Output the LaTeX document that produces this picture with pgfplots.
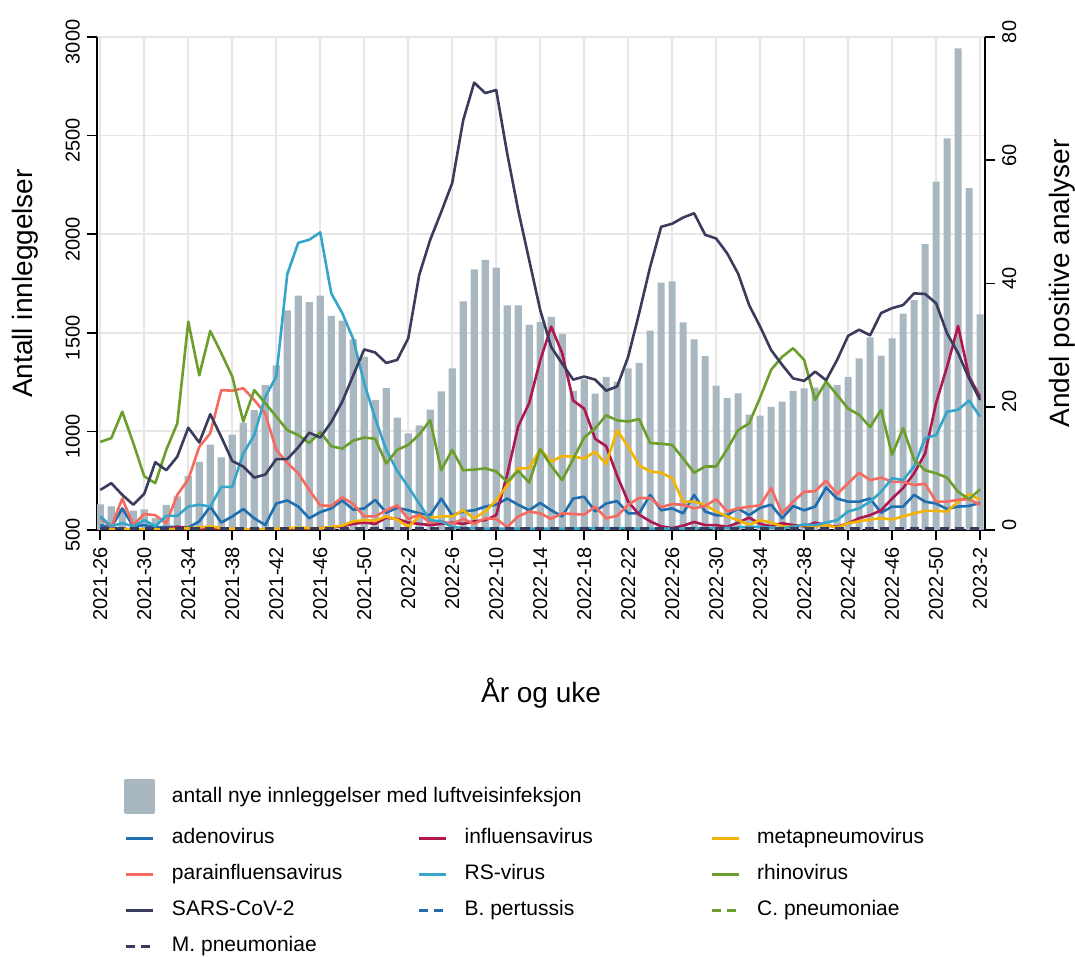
\documentclass[border=0pt]{standalone}
\usepackage{fontspec}
\setmainfont{Liberation Sans}
\usepackage{pgfplots}
\usepackage{pgfplotstable}
\pgfplotsset{compat=1.18}

\definecolor{bargray}{HTML}{A9B7C1}
\definecolor{gridgray}{HTML}{E6E6E6}
\definecolor{adeno}{HTML}{1F6EB0}
\definecolor{influ}{HTML}{B0174E}
\definecolor{meta}{HTML}{F4B400}
\definecolor{para}{HTML}{F66A60}
\definecolor{rsv}{HTML}{35A6CA}
\definecolor{rhino}{HTML}{6C9E2B}
\definecolor{sars}{HTML}{3B3B5E}

\newcommand\lentry[1]{\addlegendentry{\makebox[131.5pt][l]{\hspace{8.5pt}#1}}}

% week index (0 = 2021-26), admissions, percent positive per agent
\pgfplotstableread{
i bar ad inf met par rs rh sc bp cp mp
0 630 0.8 0.3 0.1 1.9 2.2 14.3 6.5 0.1 0.1 0.2
1 620 0.4 0.2 0.1 0.5 0.6 14.9 7.6 0.1 0.1 0.2
2 610 3.5 0.2 0.1 5.1 1.1 19.2 5.7 0.1 0.1 0.2
3 598 0.6 0.1 0.1 0.8 0.6 14.1 4.1 0.1 0.1 0.2
4 605 0.8 0.1 0.1 2.6 1.6 8.7 5.9 0.1 0.1 0.2
5 560 0.4 0.1 0.1 2.4 0.6 7.6 11.0 0.1 0.1 0.2
6 628 0.5 0.2 0.1 1.1 2.3 13.0 9.7 0.1 0.1 0.2
7 670 0.5 0.5 0.2 5.7 2.3 17.3 11.9 0.1 0.1 0.2
8 775 0.4 0.3 0.3 8.2 3.8 33.8 16.6 0.1 0.1 0.2
9 846 1.4 0.1 0.4 13.5 4.1 25.1 14.2 0.1 0.1 0.2
10 933 3.8 0.1 0.6 15.7 3.8 32.3 18.8 0.1 0.1 0.2
11 868 1.2 0.1 0.3 22.7 7.0 28.7 15.1 0.1 0.1 0.2
12 983 2.2 0.1 0.2 22.6 7.0 24.9 11.2 0.1 0.1 0.2
13 1044 3.4 0.1 0.1 23.0 12.4 17.6 10.3 0.1 0.1 0.2
14 1108 1.9 0.1 0.1 21.1 15.4 22.7 8.5 0.1 0.1 0.2
15 1235 0.8 0.1 0.1 18.9 21.6 20.6 9.0 0.1 0.1 0.2
16 1335 4.3 0.1 0.2 13.0 24.9 18.4 11.5 0.1 0.1 0.2
17 1614 4.8 0.1 0.3 10.9 41.5 16.2 11.5 0.1 0.1 0.2
18 1688 3.8 0.1 0.4 9.2 46.6 15.4 13.4 0.1 0.1 0.2
19 1655 1.9 0.2 0.3 6.5 47.1 14.1 15.8 0.1 0.1 0.2
20 1688 2.9 0.3 0.3 4.0 48.3 15.9 15.0 0.1 0.1 0.2
21 1586 3.5 0.4 0.5 3.9 38.4 13.6 17.5 0.1 0.1 0.2
22 1562 4.8 0.6 0.7 5.3 35.2 13.2 20.8 0.1 0.1 0.2
23 1466 3.3 1.0 1.4 4.2 31.0 14.5 25.1 0.1 0.1 0.2
24 1378 3.5 1.2 1.6 2.2 23.8 15.0 29.3 0.1 0.1 0.2
25 1158 4.9 1.0 1.5 2.2 18.1 14.8 28.8 0.1 0.1 0.2
26 1220 2.8 2.0 2.2 3.2 13.0 10.8 27.1 0.1 0.1 0.2
27 1070 3.6 1.8 1.7 4.0 9.6 13.0 27.6 0.1 0.1 0.2
28 990 3.2 1.2 0.5 1.8 7.0 13.8 31.1 0.1 0.1 0.2
29 1030 2.7 1.0 2.2 2.5 4.3 15.5 41.4 0.1 0.1 0.2
30 1110 2.4 0.8 2.0 1.2 1.6 17.8 47.1 0.1 0.1 0.2
31 1203 5.1 1.0 2.2 1.4 1.4 9.7 51.6 0.1 0.1 0.2
32 1320 2.4 1.2 2.2 1.0 0.5 13.0 56.3 0.1 0.1 0.2
33 1659 3.0 1.0 3.2 1.8 0.3 9.7 66.5 0.1 0.1 0.2
34 1822 3.2 1.4 1.9 1.0 0.3 9.8 72.6 0.1 0.1 0.2
35 1870 3.8 1.6 3.0 1.9 0.2 10.0 70.9 0.1 0.1 0.2
36 1830 4.1 2.4 4.8 1.8 0.2 9.5 71.4 0.1 0.1 0.2
37 1639 5.1 9.0 7.3 0.5 0.2 7.8 61.1 0.1 0.1 0.2
38 1639 4.1 16.8 10.0 2.2 0.2 9.6 51.9 0.1 0.1 0.2
39 1541 3.2 20.6 10.0 3.0 0.2 7.7 43.8 0.1 0.1 0.2
40 1555 4.4 27.5 13.1 2.7 0.2 13.1 35.7 0.1 0.1 0.2
41 1581 3.2 33.0 11.1 1.8 0.2 10.4 29.7 0.1 0.1 0.2
42 1495 2.2 28.7 12.0 2.7 0.2 8.1 27.0 0.1 0.1 0.2
43 1206 5.1 21.0 11.9 2.6 0.2 11.5 24.4 0.1 0.1 0.2
44 1264 5.4 19.7 11.6 2.5 0.3 15.0 24.9 0.1 0.1 0.2
45 1191 3.0 14.8 12.7 3.8 0.3 16.5 24.4 0.1 0.1 0.2
46 1277 4.3 13.6 10.7 1.9 0.3 18.6 22.6 0.1 0.1 0.2
47 1252 4.7 8.8 16.2 2.3 0.3 17.8 23.3 0.1 0.1 0.2
48 1320 2.7 4.6 13.5 4.1 0.3 17.6 28.1 0.1 0.1 0.2
49 1348 2.7 2.5 10.5 5.2 0.2 18.0 35.2 0.1 0.1 0.2
50 1511 5.7 1.4 9.5 5.2 0.2 14.1 42.7 0.1 0.1 0.2
51 1754 3.2 0.6 9.3 3.7 0.2 14.0 49.2 0.1 0.1 0.2
52 1761 3.5 0.3 8.4 4.2 0.2 13.8 49.7 0.1 0.1 0.2
53 1553 2.7 0.7 4.6 4.1 0.2 11.6 50.7 0.1 0.1 0.2
54 1467 5.7 1.3 4.6 3.5 0.3 9.3 51.4 0.1 0.1 0.2
55 1382 3.0 0.8 4.1 3.9 0.3 10.3 47.9 0.1 0.1 0.2
56 1232 2.4 0.8 3.0 5.0 0.3 10.3 47.3 0.1 0.1 0.2
57 1169 2.4 0.5 2.2 3.0 0.3 13.1 44.9 0.1 0.1 0.2
58 1193 3.5 1.2 1.6 3.5 0.4 16.2 41.6 0.1 0.1 0.2
59 1085 2.4 2.0 0.8 3.8 0.5 17.3 36.5 0.1 0.1 0.2
60 1080 3.6 1.0 1.6 4.0 0.5 21.5 33.0 0.1 0.1 0.2
61 1124 4.1 0.6 1.2 6.8 0.4 26.0 29.2 0.1 0.1 0.2
62 1151 1.9 1.1 0.6 2.7 0.3 28.1 26.8 0.1 0.1 0.2
63 1206 3.9 0.8 0.5 4.6 0.5 29.5 24.6 0.1 0.1 0.2
64 1218 3.2 0.6 0.8 6.2 0.9 27.6 24.2 0.1 0.1 0.2
65 1222 3.8 1.2 0.6 6.3 0.8 21.1 25.7 0.1 0.1 0.2
66 1239 6.9 0.8 0.8 8.0 1.2 24.1 24.3 0.1 0.1 0.2
67 1234 5.1 0.5 0.4 5.8 1.6 21.9 27.6 0.1 0.1 0.2
68 1276 4.6 1.1 1.1 7.6 3.0 19.7 31.5 0.1 0.1 0.2
69 1370 4.6 1.9 1.4 9.3 3.5 18.7 32.5 0.1 0.1 0.2
70 1477 5.1 2.4 1.7 8.1 4.6 16.7 31.6 0.1 0.1 0.2
71 1384 2.8 3.2 1.9 8.5 6.2 19.5 35.2 0.1 0.1 0.2
72 1472 3.8 5.1 1.7 7.8 8.4 12.2 36.0 0.1 0.1 0.2
73 1597 3.8 6.8 2.2 7.8 8.1 16.5 36.5 0.1 0.1 0.2
74 1666 5.7 9.2 2.7 7.3 10.3 11.4 38.4 0.1 0.1 0.2
75 1950 4.6 12.4 3.1 7.5 14.9 9.7 38.3 0.1 0.1 0.2
76 2266 4.3 20.6 3.1 4.6 15.4 9.2 36.8 0.1 0.1 0.2
77 2486 3.4 26.5 3.0 4.6 19.2 8.5 31.9 0.1 0.1 0.2
78 2942 3.8 33.1 4.6 4.9 19.5 6.2 28.7 0.1 0.1 0.2
79 2234 3.9 24.9 5.8 5.0 21.0 5.0 24.6 0.1 0.1 0.2
80 1594 4.4 21.6 4.9 4.1 18.4 6.6 21.1 0.1 0.1 0.2
}\data

\pgfplotsset{
  base/.style={
    at={(48.5pt,213.5pt)}, anchor=south west,
    scale only axis, width=444pt, height=246.5pt,
    xmin=-0.3, xmax=80.45,
    tick align=outside, major tick length=5pt,
    tick style={black, line width=0.8pt},
    axis line style={black, line width=0.9pt, -},
    tick label style={font=\fontsize{10}{12}\selectfont},
    label style={font=\fontsize{14}{16}\selectfont},
    /pgf/number format/assume math mode=true,
    /pgf/number format/1000 sep={},
  }
}

\begin{document}
\begin{tikzpicture}
\useasboundingbox (0,0) rectangle (537.5pt,478.5pt);

\begin{axis}[base,
  ymin=500, ymax=3000,
  axis x line*=bottom, axis y line*=left,
  xtick={0,4,...,80},
  xticklabels={2021-26,2021-30,2021-34,2021-38,2021-42,2021-46,2021-50,2022-2,2022-6,2022-10,2022-14,2022-18,2022-22,2022-26,2022-30,2022-34,2022-38,2022-42,2022-46,2022-50,2023-2},
  xticklabel style={rotate=90, anchor=east},
  ytick={500,1000,...,3000},
  yticklabel style={rotate=90, anchor=south, xshift=-2.5pt},
  xmajorgrids, ymajorgrids,
  major grid style={gridgray, line width=0.9pt},
  xlabel={År og uke},
  xlabel style={at={(axis description cs:0.5,-0.331)}, anchor=center},
  ylabel={Antall innleggelser},
  ylabel style={at={(axis description cs:-0.081,0.5)}, anchor=center},
]
\addplot[ybar, bar width=0.65, bar shift=0pt, fill=bargray, draw=none] table[x=i, y=bar]{\data};
\end{axis}

\begin{axis}[base,
  ymin=0, ymax=80,
  axis x line=none, axis y line*=right,
  ytick={0,20,...,80},
  yticklabel style={rotate=90, anchor=north, xshift=2.5pt},
  ylabel={Andel positive analyser},
  ylabel style={at={(axis description cs:1.087,0.5)}, anchor=center},
  legend columns=3, legend cell align=left,
  legend style={at={(axis description cs:0.0304,-0.505)}, anchor=north west,
    draw=none, fill=none, inner sep=0pt,
    font=\fontsize{10.5}{12}\selectfont,
    nodes={inner sep=0pt, text height=8.5pt, text depth=3pt},
    row sep=6.5pt, column sep=0pt},
  legend image code/.code={\draw[#1] (0pt,0pt) -- (13.5pt,0pt);},
  every axis plot/.append style={line width=1.3pt, line join=round},
]
\addlegendimage{legend image code/.code={\fill[bargray] (0pt,-8pt) rectangle (14pt,8pt);}}
\lentry{antall nye innleggelser med luftveisinfeksjon}
\addlegendimage{empty legend}\addlegendentry{}
\addlegendimage{empty legend}\addlegendentry{}

\addplot[adeno] table[x=i, y=ad]{\data}; \lentry{adenovirus}
\addplot[influ] table[x=i, y=inf]{\data}; \lentry{influensavirus}
\addplot[meta] table[x=i, y=met]{\data}; \lentry{metapneumovirus}
\addplot[para] table[x=i, y=par]{\data}; \lentry{parainfluensavirus}
\addplot[rsv] table[x=i, y=rs]{\data}; \lentry{RS-virus}
\addplot[rhino] table[x=i, y=rh]{\data}; \lentry{rhinovirus}
\addplot[sars] table[x=i, y=sc]{\data}; \lentry{SARS-CoV-2}
\addplot[adeno, dash pattern=on 4.5pt off 3pt] table[x=i, y=bp]{\data}; \lentry{B. pertussis}
\addplot[rhino, dash pattern=on 4.5pt off 3pt] table[x=i, y=cp]{\data}; \lentry{C. pneumoniae}
\addplot[sars, dash pattern=on 4.5pt off 3pt] table[x=i, y=mp]{\data}; \lentry{M. pneumoniae}
\end{axis}
\end{tikzpicture}
\end{document}
